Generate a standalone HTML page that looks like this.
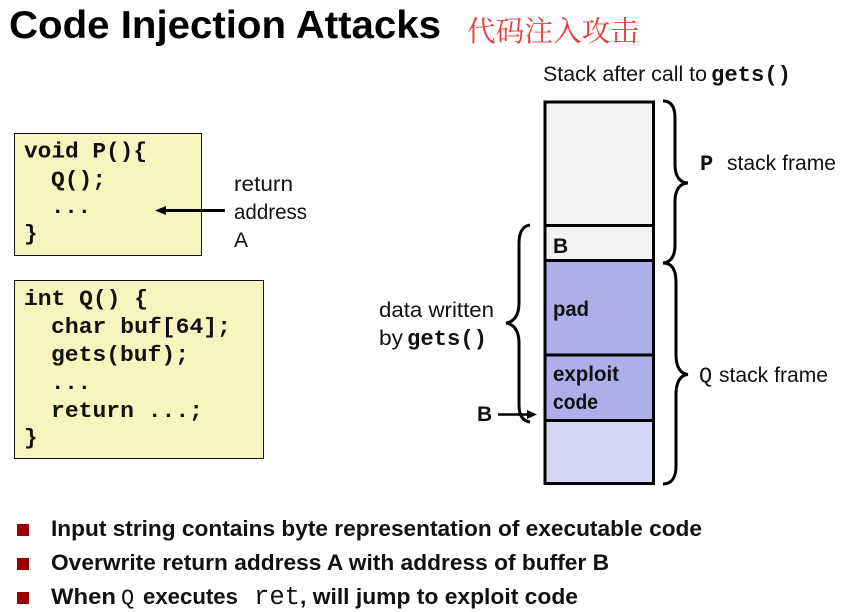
<!DOCTYPE html>
<html><head><meta charset="utf-8"><style>
html,body{margin:0;padding:0;background:#fff;width:845px;height:612px;overflow:hidden}
svg{display:block}
text{font-family:"Liberation Sans","Noto Sans CJK SC",sans-serif;fill:#111}
.m{font-family:"Liberation Mono",monospace;font-weight:700;font-size:22.500px}
.g{font-size:22px}
.l{font-size:21px}
.b{font-weight:700;font-size:21px}
.u{font-weight:700;font-size:22.500px}
</style></head><body>
<svg width="845" height="612" viewBox="0 0 845 612" xmlns="http://www.w3.org/2000/svg">
<text x="9" y="38" font-weight="700" font-size="39" textLength="432" lengthAdjust="spacingAndGlyphs" style="fill:#000">Code Injection Attacks</text>
<text x="467" y="41" font-size="28.5" textLength="172" lengthAdjust="spacingAndGlyphs" style="font-family:'Noto Serif CJK SC',serif;fill:#ee3b3b">代码注入攻击</text>

<rect x="14.5" y="133.5" width="187" height="122" fill="#f5f5bd" stroke="#111" stroke-width="1"/>
<text class="m" x="24" y="157.500" textLength="123" lengthAdjust="spacingAndGlyphs">void P(){</text>
<text class="m" x="51" y="186" textLength="55" lengthAdjust="spacingAndGlyphs">Q();</text>
<text class="m" x="51" y="213" textLength="40" lengthAdjust="spacingAndGlyphs">...</text>
<text class="m" x="24" y="240">}</text>

<rect x="14.5" y="280.5" width="249" height="178" fill="#f5f5bd" stroke="#111" stroke-width="1"/>
<text class="m" x="24" y="305" textLength="124" lengthAdjust="spacingAndGlyphs">int Q() {</text>
<text class="m" x="51" y="333" textLength="180" lengthAdjust="spacingAndGlyphs">char buf[64];</text>
<text class="m" x="51" y="361" textLength="138" lengthAdjust="spacingAndGlyphs">gets(buf);</text>
<text class="m" x="51" y="389" textLength="40" lengthAdjust="spacingAndGlyphs">...</text>
<text class="m" x="51" y="417" textLength="152" lengthAdjust="spacingAndGlyphs">return ...;</text>
<text class="m" x="24" y="444">}</text>

<line x1="165" y1="210.5" x2="225" y2="210.5" stroke="#000" stroke-width="3"/>
<polygon points="155,210.5 166,206 166,215" fill="#000"/>
<text class="l" x="234" y="191" textLength="59" lengthAdjust="spacingAndGlyphs">return</text>
<text class="l" x="234" y="219" textLength="73" lengthAdjust="spacingAndGlyphs">address</text>
<text class="l" x="234" y="247">A</text>

<text class="l" x="543" y="81" textLength="164" lengthAdjust="spacingAndGlyphs">Stack after call to</text>
<text class="m g" x="711" y="81" textLength="80" lengthAdjust="spacingAndGlyphs">gets()</text>

<rect x="545" y="102" width="108" height="124" fill="#f2f2f2"/>
<rect x="545" y="226" width="108" height="35" fill="#f2f2f2"/>
<rect x="545" y="261" width="108" height="159" fill="#aeaeeb"/>
<rect x="545" y="420" width="108" height="63" fill="#d7d7f5"/>
<g fill="none" stroke="#000" stroke-width="3">
<rect x="545" y="102" width="108.5" height="381.5"/>
<line x1="544" y1="225.5" x2="654" y2="225.5"/>
<line x1="544" y1="260.5" x2="654" y2="260.5"/>
<line x1="544" y1="355" x2="654" y2="355"/>
<line x1="544" y1="420.5" x2="654" y2="420.5"/>
<path d="M663 101 C672 101 675 108 675 118 L675 165 C675 176 680 183 688 183 C680 183 675 190 675 201 L675 245 C675 255 672 262 663 263"/>
<path d="M663 263 C672 263 676 270 676 282 L676 355 C676 366 680 374 688 374.500 C680 375 676 383 676 394 L676 466 C676 477 672 484 663 484"/>
<path d="M530 225 C523 226 519 232 519 243 L519 303 C519 315 514 322 506 323 C514 324 519 331 519 343 L519 405 C519 416 523 421 530 422"/>
</g>
<line x1="498" y1="414.500" x2="530" y2="414.500" stroke="#000" stroke-width="2.5"/>
<polygon points="537,414.500 527,410 527,419" fill="#000"/>

<text class="b" x="553" y="253">B</text>
<text class="b" x="553" y="316" textLength="36" lengthAdjust="spacingAndGlyphs">pad</text>
<text class="b" x="553" y="381" textLength="66" lengthAdjust="spacingAndGlyphs">exploit</text>
<text class="b" x="553" y="409" textLength="45" lengthAdjust="spacingAndGlyphs">code</text>
<text class="b" x="477" y="421">B</text>

<text class="l" x="379" y="317" textLength="115" lengthAdjust="spacingAndGlyphs">data written</text>
<text class="l" x="379" y="345" textLength="24" lengthAdjust="spacingAndGlyphs">by</text>
<text class="m g" x="407" y="345" textLength="80" lengthAdjust="spacingAndGlyphs">gets()</text>

<text class="m g" x="700" y="170">P</text>
<text class="l" x="727" y="170" textLength="109" lengthAdjust="spacingAndGlyphs">stack frame</text>
<text class="m g" x="699" y="382" style="font-weight:400">Q</text>
<text class="l" x="719" y="382" textLength="109" lengthAdjust="spacingAndGlyphs">stack frame</text>

<rect x="17" y="524" width="12" height="12" fill="#990000"/>
<rect x="17" y="558" width="12" height="12" fill="#990000"/>
<rect x="17" y="592" width="12" height="12" fill="#990000"/>
<text class="u" x="51" y="536" textLength="651" lengthAdjust="spacingAndGlyphs">Input string contains byte representation of executable code</text>
<text class="u" x="51" y="570" textLength="558" lengthAdjust="spacingAndGlyphs">Overwrite return address A with address of buffer B</text>
<text class="u" x="51" y="604" textLength="65" lengthAdjust="spacingAndGlyphs">When</text>
<text class="m g" x="121" y="604" style="font-weight:400">Q</text>
<text class="u" x="143" y="604" textLength="95" lengthAdjust="spacingAndGlyphs">executes</text>
<text class="m" x="254" y="604" style="font-size:25.500px;font-weight:400" textLength="46" lengthAdjust="spacingAndGlyphs">ret</text>
<text class="u" x="300" y="604" textLength="278" lengthAdjust="spacingAndGlyphs">, will jump to exploit code</text>
</svg>
</body></html>
